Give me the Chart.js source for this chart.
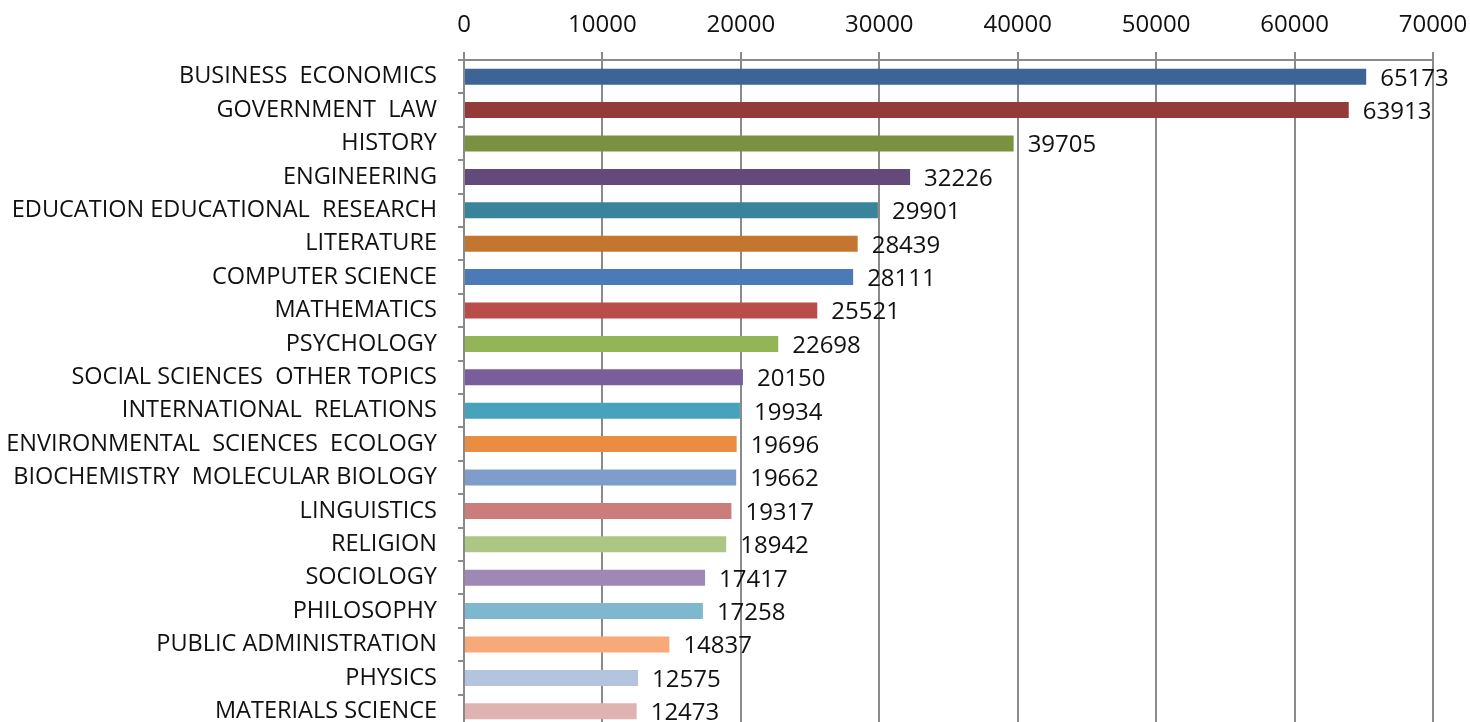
<!DOCTYPE html>
<html>
<head>
<meta charset="utf-8">
<script src="https://cdn.jsdelivr.net/npm/chart.js@4.4.1/dist/chart.umd.min.js"></script>
<style>
  html, body { margin: 0; padding: 0; background: #fff; overflow: hidden; }
  canvas { display: block; }
</style>
</head>
<body>
<canvas id="fieldChart" width="1470" height="728"></canvas>
<script>
const categories = [
  'BUSINESS  ECONOMICS', 'GOVERNMENT  LAW', 'HISTORY', 'ENGINEERING',
  'EDUCATION EDUCATIONAL  RESEARCH', 'LITERATURE', 'COMPUTER SCIENCE', 'MATHEMATICS',
  'PSYCHOLOGY', 'SOCIAL SCIENCES  OTHER TOPICS', 'INTERNATIONAL  RELATIONS',
  'ENVIRONMENTAL  SCIENCES  ECOLOGY', 'BIOCHEMISTRY  MOLECULAR BIOLOGY', 'LINGUISTICS',
  'RELIGION', 'SOCIOLOGY', 'PHILOSOPHY', 'PUBLIC ADMINISTRATION', 'PHYSICS', 'MATERIALS SCIENCE'
];
const records = [
  65173, 63913, 39705, 32226, 29901, 28439, 28111, 25521, 22698, 20150,
  19934, 19696, 19662, 19317, 18942, 17417, 17258, 14837, 12575, 12473
];
const xTicks = [0, 10000, 20000, 30000, 40000, 50000, 60000, 70000];
const barColors = [
  '#3C6494', '#943B3A', '#7A9240', '#634A7B', '#38849A', '#C4752F',
  '#4A7AB8', '#B94D4A', '#93B457', '#7A5E9B', '#47A3BC', '#E98D40',
  '#7F9DCB', '#CB7C7B', '#ADC685', '#9E88B5', '#7DB8CE', '#F7A979',
  '#B4C3DE', '#DFB3B2'
];

const FONT = '"Open Sans", "DejaVu Sans", sans-serif';

// value labels at the end of each bar
const valueLabels = {
  id: 'valueLabels',
  afterDatasetsDraw(chart) {
    const c = chart.ctx;
    const meta = chart.getDatasetMeta(0);
    c.save();
    c.font = '24px ' + FONT;
    c.fillStyle = '#111';
    c.textAlign = 'left';
    c.textBaseline = 'middle';
    meta.data.forEach((bar, i) => {
      c.fillText(String(records[i]), bar.x + 14, bar.y + 2);
    });
    c.restore();
  }
};

const ctx = document.getElementById('fieldChart').getContext('2d');

new Chart(ctx, {
  type: 'bar',
  data: {
    labels: categories,
    datasets: [{
      data: records,
      backgroundColor: barColors,
      borderWidth: 0,
      barPercentage: 0.48,
      categoryPercentage: 1
    }]
  },
  options: {
    indexAxis: 'y',
    responsive: false,
    animation: false,
    layout: { padding: { top: 0, right: 37, bottom: 0, left: 0 } },
    plugins: {
      legend: { display: false },
      tooltip: { enabled: false }
    },
    scales: {
      x: {
        position: 'top',
        min: 0,
        max: 70000,
        afterBuildTicks(axis) {
          axis.ticks = xTicks.map(v => ({ value: v }));
        },
        afterFit(axis) {
          axis.height = 60;
          axis.paddingLeft = 0;
          axis.paddingRight = 0;
        },
        ticks: {
          color: '#111',
          font: { size: 24, family: FONT },
          padding: 12,
          maxRotation: 0,
          callback: v => String(v)
        },
        grid: {
          color: '#8a8a8a',
          lineWidth: 2,
          tickLength: 8
        },
        border: { display: true, color: '#8a8a8a', width: 2 }
      },
      y: {
        afterFit(axis) {
          axis.width = 464;
          axis.paddingTop = 0;
          axis.paddingBottom = 0;
        },
        ticks: {
          color: '#111',
          font: { size: 23.5, family: FONT },
          padding: 21,
          autoSkip: false
        },
        grid: {
          drawOnChartArea: false,
          offset: true,
          color: '#8a8a8a',
          lineWidth: 2,
          tickLength: 6
        },
        border: { display: true, color: '#8a8a8a', width: 2 }
      }
    }
  },
  plugins: [valueLabels]
});
</script>
</body>
</html>
